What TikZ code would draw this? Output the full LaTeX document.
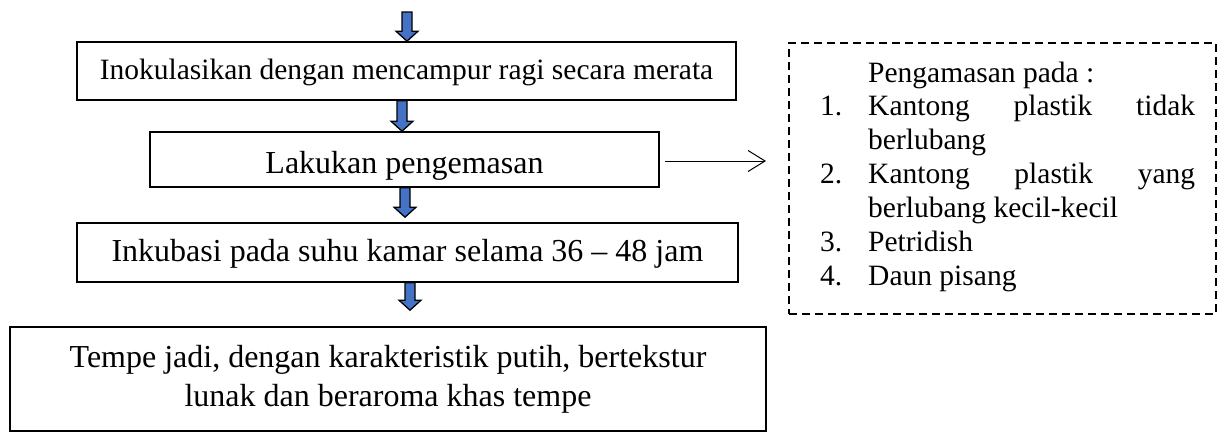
\documentclass[tikz,border=0pt]{standalone}
\usepackage{fontspec}
\setmainfont{Liberation Serif}
\usetikzlibrary{arrows.meta,calc}
\definecolor{arrowblue}{HTML}{4472C4}
\begin{document}
\begin{tikzpicture}[x=1pt,y=-1pt,
  every node/.style={font=\fontsize{29.5}{34}\selectfont},
  bigtext/.style={font=\fontsize{32}{39}\selectfont},
  flowbox/.style={draw=black, line width=1.6pt, inner sep=0pt, anchor=center},
  oneline/.style={text height=21pt, text depth=4pt},
  notebox/.style={draw=black, line width=1.6pt, dash pattern=on 8pt off 5pt, inner sep=0pt},
  linetext/.style={anchor=base west, inner sep=0pt},
  blockarr/.style={draw=black, line width=1.3pt, fill=arrowblue, line join=miter,
    to path={let \p1=(\tikztostart), \p2=(\tikztotarget) in
      (\x1-5pt,\y1) -- (\x1+5pt,\y1) -- (\x1+5pt,\y2+10pt) -- (\x1+11pt,\y2+10pt)
      -- (\x1,\y2) -- (\x1-11pt,\y2+10pt) -- (\x1-5pt,\y2+10pt) -- cycle}},
  thinarr/.style={draw=black, line width=1pt, -{Straight Barb[length=17pt,width=21pt]}}
]
\useasboundingbox (0,0) rectangle (1224,432);

% main flow boxes
\node[flowbox, oneline, minimum width=659pt, minimum height=58pt] (b1) at (406.5,71)
  {Inokulasikan dengan mencampur ragi secara merata};
\node[flowbox, bigtext, text height=28pt, text depth=0pt, minimum width=509pt, minimum height=55pt] (b2) at (404.5,159.5)
  {Lakukan pengemasan};
\node[flowbox, bigtext, oneline, minimum width=661pt, minimum height=59pt] (b3) at (407.5,252.5)
  {Inkubasi pada suhu kamar selama 36 – 48 jam};
\node[flowbox, bigtext, align=center, minimum width=756pt, minimum height=104pt] (b4) at (388,379)
  {Tempe jadi, dengan karakteristik putih, bertekstur\\lunak dan beraroma khas tempe};

% dashed note box
\node[notebox, minimum width=427pt, minimum height=271pt] (note) at (1002.5,178.5) {};
\node[linetext] (n0) at (868,82) {Pengamasan pada :};
\node[linetext] (n1num) at (820,115.9) {1.};
\node[linetext] (n1) at (868,115.9) {\hbox to 327pt{Kantong\hfill plastik\hfill tidak}};
\node[linetext] (n1b) at (868,149.8) {berlubang};
\node[linetext] (n2num) at (820,183.7) {2.};
\node[linetext] (n2) at (868,183.7) {\hbox to 327pt{Kantong\hfill plastik\hfill yang}};
\node[linetext] (n2b) at (868,217.6) {berlubang kecil-kecil};
\node[linetext] (n3num) at (820,251.5) {3.};
\node[linetext] (n3) at (868,251.5) {Petridish};
\node[linetext] (n4num) at (820,285.4) {4.};
\node[linetext] (n4) at (868,285.4) {Daun pisang};

% block arrows
\coordinate (top) at (407,12);
\coordinate (topEnd) at (b1.north -| top);
\draw[blockarr] (top) to (topEnd);
\draw[blockarr] ([xshift=-4.5pt]b1.south) to ([xshift=-4.5pt]b2.north);
\draw[blockarr] ([xshift=0.5pt]b2.south) to ([xshift=0.5pt,yshift=5pt]b3.north);
\draw[blockarr] ([xshift=2.5pt]b3.south) to ([xshift=2.5pt,yshift=16pt]b4.north);

% arrow to note
\coordinate (arrEnd) at (766,161);
\draw[thinarr] (b2.east) ++(5pt,-1.5pt) -- (arrEnd);
\end{tikzpicture}
\end{document}
